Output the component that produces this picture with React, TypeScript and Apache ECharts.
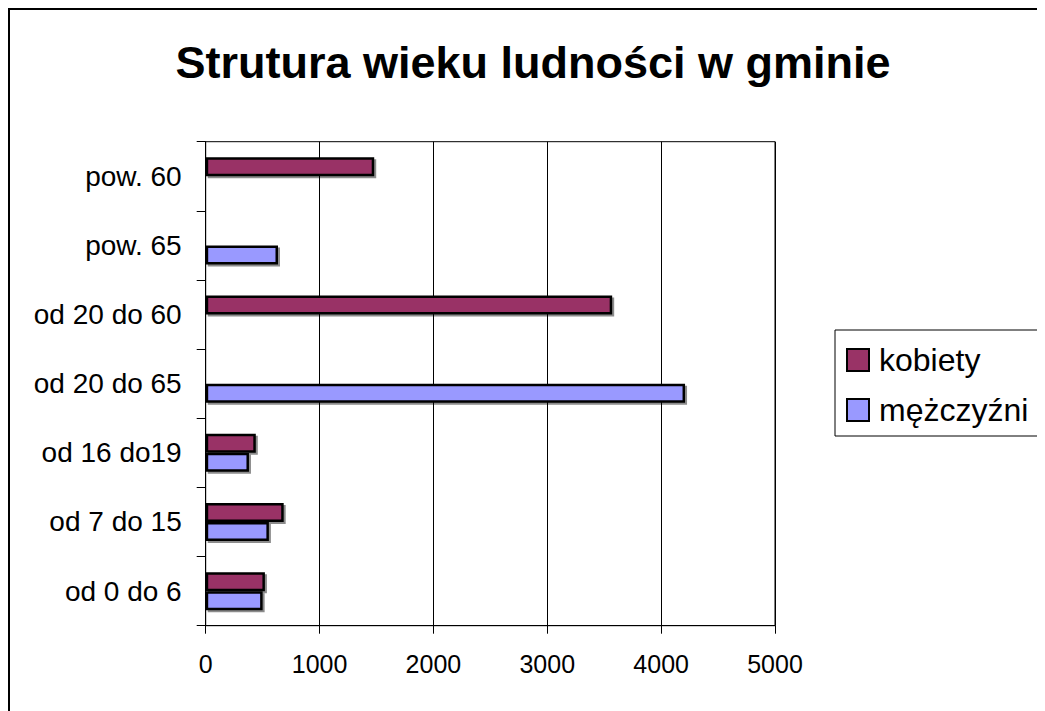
import React, { useEffect, useRef } from "react";
import * as echarts from "echarts";

const categories = ["od 0 do 6", "od 7 do 15", "od 16 do19", "od 20 do 65", "od 20 do 60", "pow. 65", "pow. 60"];
const kobiety = [520, 685, 440, null, 3570, null, 1480];
const mezczyzni = [500, 555, 380, 4210, null, 635, null];
const xTicks = [0, 1000, 2000, 3000, 4000, 5000];
const seriesNames = ["kobiety", "mężczyźni"];
const titleText = "Strutura wieku ludności w gminie";

const FONT = "'Liberation Sans', Arial, sans-serif";

export default function App() {
  const ref = useRef<HTMLDivElement>(null);
  useEffect(() => {
    document.body.style.overflow = "hidden";
    const chart = echarts.init(ref.current!, null, { renderer: "svg" });
    const barStyle = (color: string) => ({
      color,
      borderColor: "#000",
      borderWidth: 2.5,
      shadowColor: "rgba(0,0,0,0.45)",
      shadowOffsetX: 2,
      shadowOffsetY: 2,
      shadowBlur: 0,
    });
    chart.setOption({
      animation: false,
      backgroundColor: "#fff",
      textStyle: { fontFamily: FONT },
      graphic: [
        {
          type: "rect",
          shape: { x: 1, y: 1, width: 1200, height: 900 },
          style: { fill: "none", stroke: "#000", lineWidth: 2 },
          z: 100,
        },
        {
          type: "text",
          x: 525,
          y: 54,
          style: {
            text: titleText,
            font: `bold 45px ${FONT}`,
            fill: "#000",
            align: "center",
            verticalAlign: "middle",
          },
        },
      ],
      legend: {
        orient: "vertical",
        left: 827,
        top: 322,
        data: seriesNames,
        icon: "rect",
        itemWidth: 22,
        itemHeight: 22,
        itemGap: 18,
        borderColor: "#000",
        borderWidth: 1,
        padding: [14, 60, 10, 11],
        itemStyle: { borderColor: "#000", borderWidth: 2, shadowBlur: 0, shadowOffsetX: 0, shadowOffsetY: 0 },
        textStyle: { fontSize: 32, color: "#000", fontFamily: FONT, padding: [0, 0, 0, 5] },
      },
      grid: {
        left: 197.7,
        top: 133.7,
        width: 569.3,
        height: 484,
        show: true,
        borderColor: "#000",
        borderWidth: 1,
        containLabel: false,
      },
      xAxis: {
        type: "value",
        min: 0,
        max: 5000,
        interval: 1000,
        axisLine: { show: true, lineStyle: { color: "#000", width: 1 } },
        axisTick: { show: true, length: 8, lineStyle: { color: "#000" } },
        splitLine: { show: true, lineStyle: { color: "#000", width: 1 } },
        axisLabel: {
          fontSize: 25,
          color: "#000",
          margin: 26,
          fontFamily: FONT,
          formatter: (v: number) => (xTicks.includes(v) ? String(v) : ""),
        },
      },
      yAxis: {
        type: "category",
        data: categories,
        axisLine: { show: true, lineStyle: { color: "#000", width: 1 } },
        axisTick: { show: true, length: 9, lineStyle: { color: "#000" } },
        axisLabel: { fontSize: 28, color: "#000", margin: 24, fontFamily: FONT },
        splitLine: { show: false },
      },
      series: [
        {
          name: "kobiety",
          type: "bar",
          data: kobiety,
          barWidth: 19,
          barGap: "0%",
          itemStyle: barStyle("#993366"),
        },
        {
          name: "mężczyźni",
          type: "bar",
          data: mezczyzni,
          barWidth: 19,
          barGap: "0%",
          itemStyle: barStyle("#9999FF"),
        },
      ],
    });
    return () => chart.dispose();
  }, []);
  return (
    <div style={{ width: 1037, height: 703, overflow: "hidden" }}>
      <div ref={ref} style={{ width: 1100, height: 760 }} />
    </div>
  );
}
